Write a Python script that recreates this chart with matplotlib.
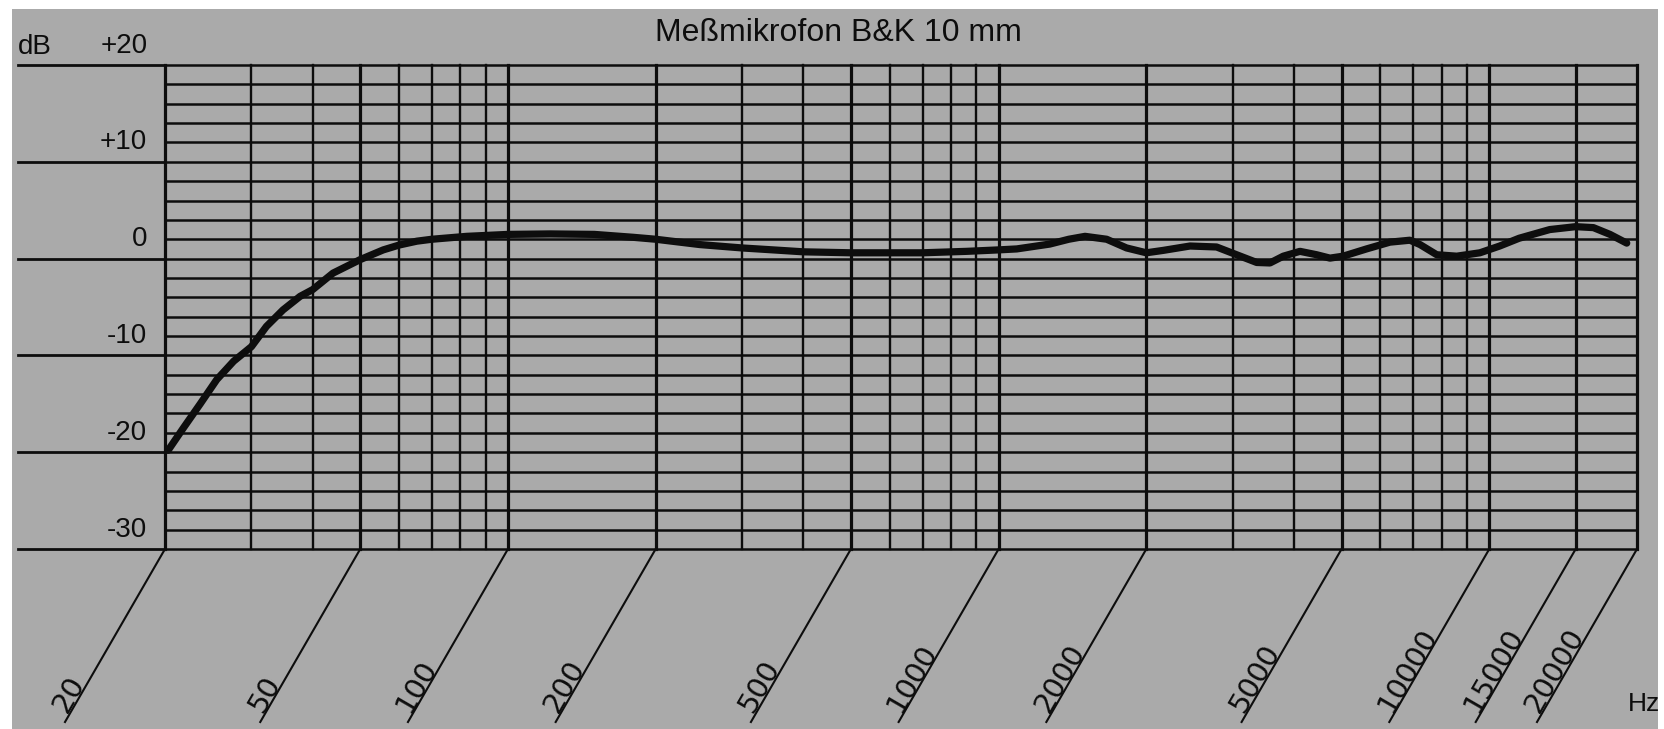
import numpy as np
import matplotlib
matplotlib.use('Agg')
import matplotlib.pyplot as plt
from matplotlib.patches import Rectangle
from matplotlib.lines import Line2D
import matplotlib.transforms as mtransforms

# ---------------------------------------------------------------
#                              data
# ---------------------------------------------------------------
freq = [20.3, 21.8, 23.6, 25.5, 27.6, 30, 32.2, 34.8, 37.7, 40, 44, 50, 55.7,
        60, 65.2, 70, 82.4, 100, 122, 150, 180, 200, 246, 300, 347, 400, 500,
        581, 700, 861, 1000, 1089, 1271, 1390, 1500, 1660, 1823, 2000, 2166,
        2455, 2781, 3055, 3357, 3573, 3803, 4113, 4447, 4734, 5036, 5621,
        6273, 6890, 7224, 7814, 8582, 9570, 10500, 11500, 13280, 15000,
        16300, 17620, 19060]
level_db = [-19.8, -17.5, -15.0, -12.5, -10.6, -9.1, -7.0, -5.3, -3.9, -3.2,
            -1.5, -0.1, 0.9, 1.4, 1.8, 2.0, 2.3, 2.5, 2.55, 2.5, 2.2, 2.0,
            1.45, 1.1, 0.9, 0.7, 0.6, 0.6, 0.6, 0.75, 0.9, 1.0, 1.5, 2.0, 2.3,
            2.0, 1.1, 0.6, 0.85, 1.3, 1.2, 0.4, -0.4, -0.45, 0.25, 0.75, 0.4,
            0.05, 0.25, 1.0, 1.7, 1.9, 1.45, 0.4, 0.25, 0.6, 1.3, 2.1, 3.0,
            3.3, 3.2, 2.5, 1.6]

grid_freqs = [20, 30, 40, 50, 60, 70, 80, 90, 100, 200, 300, 400, 500, 600,
              700, 800, 900, 1000, 2000, 3000, 4000, 5000, 6000, 7000, 8000,
              9000, 10000, 15000, 20000]
label_freqs = [20, 50, 100, 200, 500, 1000, 2000, 5000, 10000, 15000, 20000]
label_text = ['20', '50', '100', '200', '500', '1000', '2000', '5000',
              '10000', '15000', '20000']
db_major = [20, 10, 0, -10, -20, -30]
db_text = ['+20', '+10', '0', '-10', '-20', '-30']

# ---------------------------------------------------------------
#                              figure
# ---------------------------------------------------------------
W, H = 1665, 729
paper = '#aaaaaa'
ink = '#0d0d0d'

fig = plt.figure(figsize=(W / 100, H / 100), dpi=100, facecolor='white')
fig.patches.append(Rectangle((12 / W, 0), (1658 - 12) / W, (H - 9) / H,
                             transform=fig.transFigure, facecolor=paper,
                             edgecolor='none', zorder=-10))

ax = fig.add_axes([165 / W, 1 - 549 / H, (1637 - 165) / W, (549 - 65) / H])
ax.set_xscale('log')
ax.set_xlim(20, 20000)
ax.set_ylim(-30, 20)
ax.axis('off')

# grid
for d in range(-30, 21, 2):
    ax.axhline(d, color=ink, lw=1.8, clip_on=False, zorder=1)
for f in grid_freqs:
    lw = 2.3 if f in label_freqs else 1.7
    ax.axvline(f, color=ink, lw=lw, clip_on=False, zorder=1)

# major dB lines run out to the left edge
ytrans = ax.get_yaxis_transform()
for d, t in zip(db_major, db_text):
    ax.plot([-0.1, 0], [d, d], transform=ytrans, color=ink, lw=2.0,
            clip_on=False, zorder=1)
    ax.text(-0.012, d + 2, t, transform=ytrans, ha='right', va='center',
            fontsize=20, family='Liberation Sans', color=ink)
fig.text(18 / W, 1 - 47 / H, 'dB', ha='left', va='center', fontsize=20,
         family='Liberation Sans', color=ink)

# response curve
ax.plot(freq, level_db, color=ink, lw=5.2, solid_capstyle='round',
        solid_joinstyle='round', zorder=3, clip_on=False)

# slanted frequency labels below the chart
fig.canvas.draw()
for f, t in zip(label_freqs, label_text):
    x0, y0 = ax.transData.transform((f, -30))
    fig.add_artist(Line2D([x0, x0 - 100], [y0, y0 - 173], color=ink, lw=1.5,
                          transform=mtransforms.IdentityTransform()))
    off = mtransforms.ScaledTranslation(-97.7 / 100, -165 / 100,
                                        fig.dpi_scale_trans)
    ax.text(f, -30, t, transform=ax.transData + off, rotation=60,
            rotation_mode='anchor', ha='left', va='baseline', fontsize=21,
            family='DejaVu Sans', color=ink, clip_on=False)

fig.text(1644 / W, 1 - 704 / H, 'Hz', ha='center', va='center', fontsize=19,
         family='Liberation Sans', color=ink)
fig.text(838 / W, 1 - 33 / H, 'Meßmikrofon B&K 10 mm', ha='center',
         va='center', fontsize=23, family='Liberation Sans', color=ink)

fig.savefig('out.png', dpi=100, facecolor='white')
